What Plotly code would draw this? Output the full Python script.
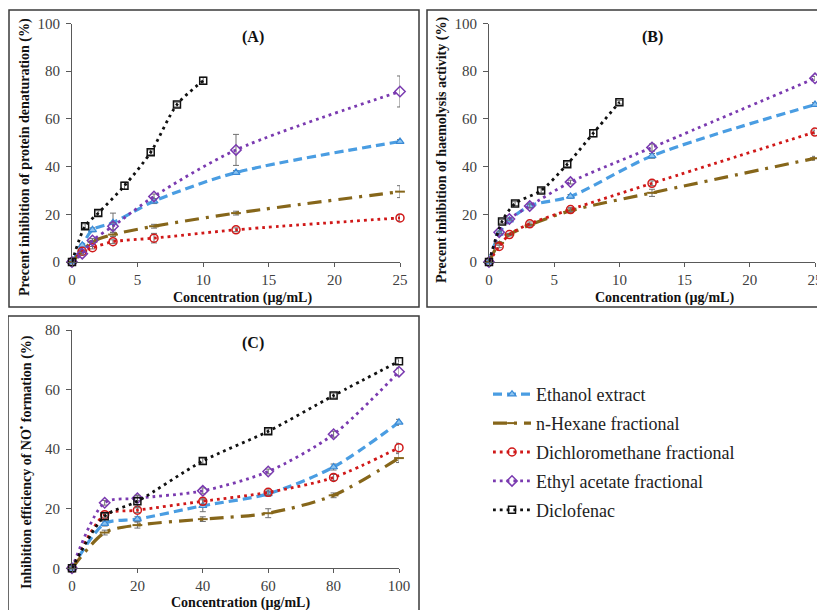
import plotly.graph_objects as go

# ---------------- data ----------------
series_names = ["Ethanol extract", "n-Hexane fractional", "Dichloromethane fractional",
                "Ethyl acetate fractional", "Diclofenac"]

conc_ab = [0, 0.78125, 1.5625, 3.125, 6.25, 12.5, 25]
conc_ab_diclo = [0, 1, 2, 4, 6, 8, 10]
conc_c = [0, 10, 20, 40, 60, 80, 100]

# Panel A: protein denaturation
a_ethanol = [0, 7, 13.5, 16.5, 25.5, 37.5, 50.5]
a_hexane = [0, 4.5, 8.5, 11.5, 15, 20.5, 29.5]
a_dcm = [0, 4.5, 6, 8.5, 10, 13.5, 18.5]
a_ethyl = [0, 3.5, 9, 15, 27.5, 47, 71.5]
a_diclo = [0, 15, 20.5, 32, 46, 66, 76]
a_err_ethanol = [0, 0.5, 0.8, 4, 1, 0.8, 0.8]
a_err_hexane = [0, 0.5, 0.5, 0.8, 0.8, 0.8, 2.5]
a_err_dcm = [0, 0.5, 0.5, 0.8, 2, 0.8, 1.2]
a_err_ethyl = [0, 0.5, 0.8, 1.5, 1, 6.5, 6.5]
a_err_diclo = [0, 1, 1, 1.5, 1, 1, 1.5]

# Panel B: haemolysis
b_ethanol = [0, 12, 17.5, 23.5, 27.5, 44.5, 66]
b_hexane = [0, 8, 11.5, 15.5, 21.5, 29, 43.5]
b_dcm = [0, 6.5, 11.5, 16, 22, 33, 54.5]
b_ethyl = [0, 12.5, 18, 23.5, 33.5, 48, 77]
b_diclo = [0, 17, 24.5, 30, 41, 54, 67]
b_err_ethanol = [0, 0.5, 0.5, 0.8, 0.8, 1, 0.8]
b_err_hexane = [0, 0.5, 0.5, 0.5, 0.8, 1.5, 0.8]
b_err_dcm = [0, 0.5, 0.5, 0.8, 0.8, 1, 0.8]
b_err_ethyl = [0, 0.5, 0.5, 0.8, 0.8, 1.5, 0.8]
b_err_diclo = [0, 0.8, 0.8, 1, 1, 1.5, 0.8]

# Panel C: NO formation
c_ethanol = [0, 15, 16.5, 21, 25, 34, 49]
c_hexane = [0, 12, 14.5, 16.5, 18.5, 24.5, 37]
c_dcm = [0, 18, 19.5, 22.5, 25.5, 30.5, 40.5]
c_ethyl = [0, 22, 23.5, 26, 32.5, 45, 66]
c_diclo = [0, 17.5, 22.5, 36, 46, 58, 69.5]
c_err_ethanol = [0, 0.8, 0.8, 2, 0.8, 1, 1]
c_err_hexane = [0, 0.8, 1, 0.8, 1.5, 0.8, 1.5]
c_err_dcm = [0, 0.8, 0.8, 1, 0.8, 1, 1.5]
c_err_ethyl = [0, 0.8, 0.8, 1, 0.8, 1, 1.2]
c_err_diclo = [0, 1, 2, 1, 0.8, 0.8, 0.8]

y_ticks_ab = [0, 20, 40, 60, 80, 100]
x_ticks_ab = [0, 5, 10, 15, 20, 25]
y_ticks_c = [0, 20, 40, 60, 80]
x_ticks_c = [0, 20, 40, 60, 80, 100]

# ---------------- styles ----------------
OFF = 8  # page body margin
W, H = 825 - OFF, 610 - OFF
FONT = "Liberation Serif, Times New Roman, serif"

styles = {
    "Ethanol extract": dict(color="#4A9DE2", width=3.2, dash="9px,5px",
                            marker=dict(symbol="triangle-up", size=7, color="#8CC4F0",
                                        line=dict(color="#3A8AD6", width=1.2))),
    "n-Hexane fractional": dict(color="#86661A", width=3.2, dash="14px,7px,3px,7px",
                                marker=dict(symbol="line-ew", size=7, color="#86661A",
                                            line=dict(color="#86661A", width=2))),
    "Dichloromethane fractional": dict(color="#D01818", width=2.8, dash="2.8px,4px",
                                       marker=dict(symbol="circle-open", size=8, color="#D01818",
                                                   line=dict(color="#D01818", width=1.5))),
    "Ethyl acetate fractional": dict(color="#7A3AB0", width=2.8, dash="2.8px,4px",
                                     marker=dict(symbol="diamond-open", size=8, color="#7A3AB0",
                                                 line=dict(color="#7A3AB0", width=1.5))),
    "Diclofenac": dict(color="#111111", width=2.8, dash="2.8px,4px",
                       marker=dict(symbol="square-open", size=7, color="#111111",
                                   line=dict(color="#111111", width=1.5))),
}


def px_x(p):
    return (p - OFF) / W


def px_y(p):
    return 1 - (p - OFF) / H


fig = go.Figure()

panels = [
    ("x", "y", True,
     [(conc_ab, a_ethanol, a_err_ethanol), (conc_ab, a_hexane, a_err_hexane),
      (conc_ab, a_dcm, a_err_dcm), (conc_ab, a_ethyl, a_err_ethyl),
      (conc_ab_diclo, a_diclo, a_err_diclo)]),
    ("x2", "y2", False,
     [(conc_ab, b_ethanol, b_err_ethanol), (conc_ab, b_hexane, b_err_hexane),
      (conc_ab, b_dcm, b_err_dcm), (conc_ab, b_ethyl, b_err_ethyl),
      (conc_ab_diclo, b_diclo, b_err_diclo)]),
    ("x3", "y3", False,
     [(conc_c, c_ethanol, c_err_ethanol), (conc_c, c_hexane, c_err_hexane),
      (conc_c, c_dcm, c_err_dcm), (conc_c, c_ethyl, c_err_ethyl),
      (conc_c, c_diclo, c_err_diclo)]),
]

for xa, ya, show, data in panels:
    for name, (xs, ys, es) in zip(series_names, data):
        st = styles[name]
        fig.add_trace(go.Scatter(
            x=xs, y=ys, name=name, legendgroup=name, showlegend=show,
            xaxis=xa, yaxis=ya, mode="lines+markers",
            line=dict(color=st["color"], width=st["width"], dash=st["dash"],
                      shape="spline", smoothing=0.8),
            marker=st["marker"],
            error_y=dict(type="data", array=es, visible=True, color="#707070",
                         thickness=1, width=3),
            cliponaxis=False,
        ))

axis_common = dict(showgrid=False, zeroline=False, showline=True, linecolor="#595959",
                   linewidth=1, ticks="outside", tickcolor="#595959",
                   tickfont=dict(family=FONT, size=15, color="#404040"),
                   automargin=False)
xaxis_common = dict(axis_common, ticklen=4, ticklabelstandoff=0)
yaxis_common = dict(axis_common, ticklen=5, ticklabelstandoff=3)

fig.update_layout(
    width=W, height=H,
    margin=dict(l=0, r=0, t=0, b=0, pad=0, autoexpand=False),
    paper_bgcolor="white", plot_bgcolor="white",
    font=dict(family=FONT),
    xaxis=dict(domain=[px_x(72), px_x(400)], range=[0, 25], tickvals=x_ticks_ab,
               anchor="y", **xaxis_common),
    yaxis=dict(domain=[px_y(262), px_y(23.5)], range=[0, 100], tickvals=y_ticks_ab,
               anchor="x", **yaxis_common),
    xaxis2=dict(domain=[px_x(489), px_x(815)], range=[0, 25], tickvals=x_ticks_ab,
                anchor="y2", **xaxis_common),
    yaxis2=dict(domain=[px_y(262), px_y(23.5)], range=[0, 100], tickvals=y_ticks_ab,
                anchor="x2", **yaxis_common),
    xaxis3=dict(domain=[px_x(72), px_x(399)], range=[0, 100], tickvals=x_ticks_c,
                anchor="y3", **xaxis_common),
    yaxis3=dict(domain=[px_y(568.3), px_y(330)], range=[0, 80], tickvals=y_ticks_c,
                anchor="x3", **yaxis_common),
    legend=dict(x=px_x(488), y=px_y(376), xanchor="left", yanchor="top",
                font=dict(family=FONT, size=18, color="#222222"),
                bgcolor="rgba(0,0,0,0)", tracegroupgap=2.5, itemwidth=38),
)

# panel borders
border = dict(type="rect", xref="paper", yref="paper",
              line=dict(color="#3a3a3a", width=1.5), fillcolor="rgba(0,0,0,0)")
fig.add_shape(x0=px_x(9), x1=px_x(419), y0=px_y(307), y1=px_y(10), **border)
fig.add_shape(x0=px_x(427), x1=px_x(835), y0=px_y(307), y1=px_y(10), **border)
fig.add_shape(x0=px_x(8), x1=px_x(419), y0=px_y(625), y1=px_y(316), **border)

title_font = dict(family=FONT, size=14, color="#111111")
ann = []
# panel labels
for txt, xp, yp in [("(A)", 253, 37), ("(B)", 652, 37), ("(C)", 253, 343)]:
    ann.append(dict(text=f"<b>{txt}</b>", x=px_x(xp), y=px_y(yp), xref="paper", yref="paper",
                    xanchor="center", yanchor="middle",
                    showarrow=False, font=dict(family=FONT, size=16, color="#111111")))
# x titles
for xp, yp in [(243, 297.5), (664, 297.5), (240, 603)]:
    ann.append(dict(text="<b>Concentration (µg/mL)</b>", x=px_x(xp), y=px_y(yp),
                    xref="paper", yref="paper", xanchor="center", yanchor="middle",
                    showarrow=False, font=title_font))
# y titles
for txt, xp, yp in [("Precent inhibition of protein denaturation (%)", 25, 157),
                    ("Precent inhibition of haemolysis activity (%)", 442, 150),
                    ("Inhibition efficiency of NO<sup>•</sup> formation (%)", 25, 462)]:
    ann.append(dict(text=f"<b>{txt}</b>", x=px_x(xp), y=px_y(yp), xref="paper", yref="paper",
                    xanchor="center", yanchor="middle",
                    showarrow=False, textangle=-90, font=title_font))
fig.update_layout(annotations=ann)

fig.write_html("out.html")
